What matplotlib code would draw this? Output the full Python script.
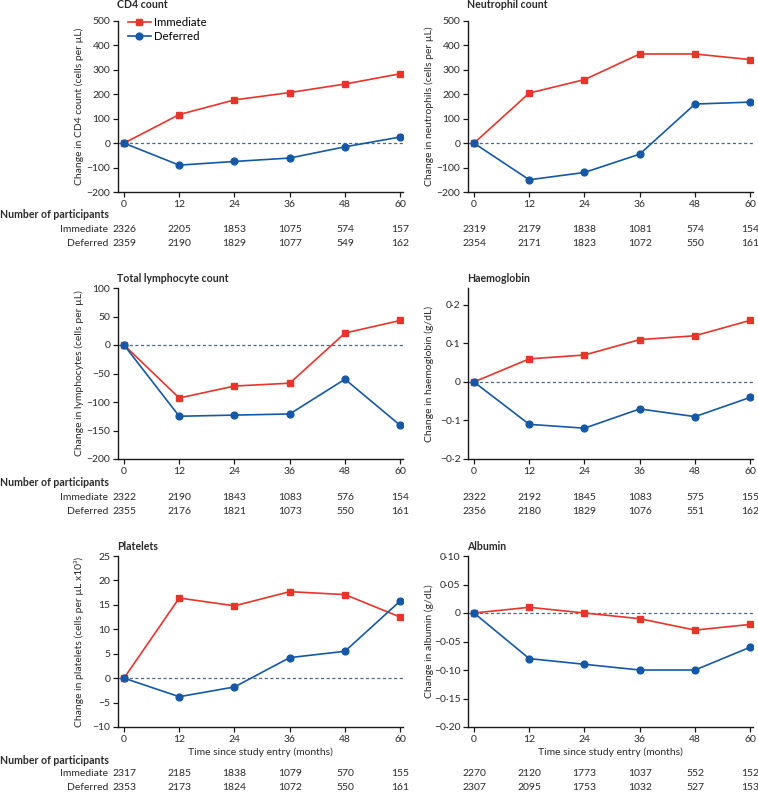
import matplotlib
matplotlib.use("Agg")
import matplotlib.pyplot as plt
from matplotlib.transforms import blended_transform_factory

plt.rcParams['font.family'] = ['Lato', 'DejaVu Sans']

W, H = 758, 793

months = [0, 12, 24, 36, 48, 60]

titles = ["CD4 count", "Neutrophil count", "Total lymphocyte count",
          "Haemoglobin", "Platelets", "Albumin"]
ylabels = ["Change in CD4 count (cells per µL)",
           "Change in neutrophils (cells per µL)",
           "Change in lymphocytes (cells per µL)",
           "Change in haemoglobin (g/dL)",
           "Change in platelets (cells per µL x10³)",
           "Change in albumin (g/dL)"]

cd4_imm = [0, 117, 177, 207, 242, 284]
cd4_def = [0, -90, -75, -61, -15, 25]
neu_imm = [0, 205, 260, 365, 365, 342]
neu_def = [0, -150, -120, -45, 160, 168]
lym_imm = [0, -93, -72, -67, 21, 43]
lym_def = [0, -125, -123, -121, -60, -141]
hb_imm = [0, 0.06, 0.07, 0.11, 0.12, 0.16]
hb_def = [0, -0.11, -0.12, -0.07, -0.09, -0.04]
plt_imm = [0, 16.4, 14.8, 17.7, 17.1, 12.5]
plt_def = [0, -3.8, -1.8, 4.2, 5.5, 15.8]
alb_imm = [0, 0.01, 0, -0.01, -0.03, -0.02]
alb_def = [0, -0.08, -0.09, -0.10, -0.10, -0.06]

n_cd4_imm = [2326, 2205, 1853, 1075, 574, 157]
n_cd4_def = [2359, 2190, 1829, 1077, 549, 162]
n_neu_imm = [2319, 2179, 1838, 1081, 574, 154]
n_neu_def = [2354, 2171, 1823, 1072, 550, 161]
n_lym_imm = [2322, 2190, 1843, 1083, 576, 154]
n_lym_def = [2355, 2176, 1821, 1073, 550, 161]
n_hb_imm = [2322, 2192, 1845, 1083, 575, 155]
n_hb_def = [2356, 2180, 1829, 1076, 551, 162]
n_plt_imm = [2317, 2185, 1838, 1079, 570, 155]
n_plt_def = [2353, 2173, 1824, 1072, 550, 161]
n_alb_imm = [2270, 2120, 1773, 1037, 552, 152]
n_alb_def = [2307, 2095, 1753, 1032, 527, 153]

yt_cells = [-200, -100, 0, 100, 200, 300, 400, 500]
yt_cells_lab = ["−200", "−100", "0", "100", "200", "300", "400", "500"]
yt_lym = [-200, -150, -100, -50, 0, 50, 100]
yt_lym_lab = ["−200", "−150", "−100", "−50", "0", "50", "100"]
yt_hb = [-0.2, -0.1, 0, 0.1, 0.2]
yt_hb_lab = ["−0·2", "−0·1", "0", "0·1", "0·2"]
yt_plt = [-10, -5, 0, 5, 10, 15, 20, 25]
yt_plt_lab = ["−10", "−5", "0", "5", "10", "15", "20", "25"]
yt_alb = [-0.20, -0.15, -0.10, -0.05, 0, 0.05, 0.10]
yt_alb_lab = ["−0·20", "−0·15", "−0·10", "−0·05", "0", "0·05", "0·10"]

panels = [
    (cd4_imm, cd4_def, n_cd4_imm, n_cd4_def, yt_cells, yt_cells_lab, (-200, 500)),
    (neu_imm, neu_def, n_neu_imm, n_neu_def, yt_cells, yt_cells_lab, (-200, 500)),
    (lym_imm, lym_def, n_lym_imm, n_lym_def, yt_lym, yt_lym_lab, (-200, 100)),
    (hb_imm, hb_def, n_hb_imm, n_hb_def, yt_hb, yt_hb_lab, (-0.2, 0.244)),
    (plt_imm, plt_def, n_plt_imm, n_plt_def, yt_plt, yt_plt_lab, (-10, 25)),
    (alb_imm, alb_def, n_alb_imm, n_alb_def, yt_alb, yt_alb_lab, (-0.20, 0.10)),
]

RED = "#e8342b"
BLUE = "#1558a5"
ZERO = "#4a6885"
TXT = "#2a2a2a"
FS = 7.5

fig = plt.figure(figsize=(W / 100, H / 100), dpi=100)

col_left = [118, 468]
ax_w = 285
row_top = [21, 288, 556]
ax_h = 171
row_np = [215, 483, 761]
row_imm = [230, 497, 774]
row_def = [243, 511, 788]
row_title = [5, 279, 547]


def fx(px):
    return px / W


def fy(py):
    return 1 - py / H


for i, (imm, dfr, nimm, ndef, yt, ytl, ylim) in enumerate(panels):
    r, c = divmod(i, 2)
    left = col_left[c]
    top = row_top[r]
    ax = fig.add_axes([fx(left), fy(top + ax_h), ax_w / W, ax_h / H])
    ax.axhline(0, color=ZERO, lw=0.9, ls=(0, (2.5, 2)), zorder=1)
    ax.plot(months, imm, color=RED, lw=1.2, marker="s", ms=4.6,
            mec=RED, label="Immediate", zorder=3)
    ax.plot(months, dfr, color=BLUE, lw=1.2, marker="o", ms=4.9,
            mec=BLUE, label="Deferred", zorder=3)
    ax.set_xlim(-1.3, 60.6)
    ax.set_ylim(*ylim)
    ax.set_xticks(months)
    ax.set_xticklabels([str(m) for m in months])
    ax.set_yticks(yt)
    ax.set_yticklabels(ytl)
    for s in ["top", "right"]:
        ax.spines[s].set_visible(False)
    for s in ["left", "bottom"]:
        ax.spines[s].set_color("#1a1a1a")
        ax.spines[s].set_linewidth(1.0)
    ax.tick_params(direction="out", length=3.5, width=0.9, colors="#1a1a1a",
                   labelsize=FS, labelcolor=TXT, pad=2)
    ax.patch.set_alpha(0)

    fig.text(fx(left - 1), fy(row_title[r]), titles[i], fontsize=7.6,
             fontweight="bold", color=TXT, ha="left", va="center")
    fig.text(fx(left - 39), fy(top + ax_h / 2), ylabels[i], fontsize=FS,
             color=TXT, rotation=90, ha="center", va="center")

    tr = blended_transform_factory(ax.transData, fig.transFigure)
    for m, a, b in zip(months, nimm, ndef):
        ax.text(m, fy(row_imm[r]), str(a), transform=tr, ha="center",
                va="center", fontsize=FS, color=TXT, clip_on=False)
        ax.text(m, fy(row_def[r]), str(b), transform=tr, ha="center",
                va="center", fontsize=FS, color=TXT, clip_on=False)

    if r == 2:
        ax.set_xlabel("Time since study entry (months)", fontsize=FS,
                      color=TXT, labelpad=3)

    if c == 0:
        fig.text(0.0, fy(row_np[r]), "Number of participants", fontsize=7.6,
                 fontweight="bold", color=TXT, ha="left", va="center")
        fig.text(fx(108), fy(row_imm[r]), "Immediate", fontsize=FS,
                 color=TXT, ha="right", va="center")
        fig.text(fx(108), fy(row_def[r]), "Deferred", fontsize=FS,
                 color=TXT, ha="right", va="center")

    if i == 0:
        ax.legend(loc="upper left", bbox_to_anchor=(0.035, 1.025),
                  frameon=False, fontsize=8.2, handlelength=2.0,
                  handletextpad=0.25, labelspacing=0.3, borderaxespad=0,
                  borderpad=0)

fig.savefig("out.png", dpi=100)
